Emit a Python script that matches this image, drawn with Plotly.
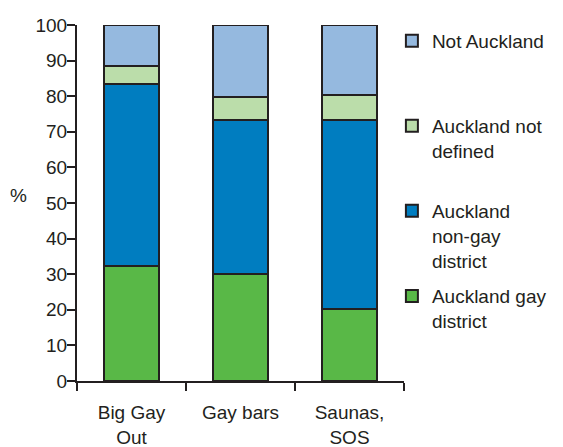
import plotly.graph_objects as go

categories = ["Big Gay<br>Out", "Gay bars", "Saunas,<br>SOS"]
gay_district = [32.3, 30.0, 20.1]
non_gay_district = [51.0, 43.2, 53.1]
not_defined = [5.1, 6.6, 7.2]
not_auckland = [11.6, 20.2, 19.6]

series = [
    ("Auckland gay<br>district", gay_district, "#59B847"),
    ("Auckland<br>non-gay<br>district", non_gay_district, "#007DC0"),
    ("Auckland not<br>defined<br>\u00a0", not_defined, "#BBDDAA"),
    ("Not Auckland<br>\u00a0<br>\u00a0", not_auckland, "#95B9DF"),
]

FONT = "Liberation Sans, Arial, sans-serif"
INK = "#231F20"
FS = 19

fig = go.Figure()
for i, (name, vals, color) in enumerate(series):
    fig.add_trace(go.Bar(
        x=categories, y=vals, name=name,
        marker=dict(color=color, line=dict(color=INK, width=2)),
        legendgroup=str(i), legendrank=len(series) - i,
    ))

# page body has an 8px margin, so the figure is shrunk by 8px and left/top margins reduced
fig.update_layout(
    barmode="stack",
    bargap=0.5,
    width=555, height=439,
    margin=dict(l=69, r=159, t=17, b=66, autoexpand=False),
    plot_bgcolor="white", paper_bgcolor="white",
    font=dict(family=FONT, size=FS, color=INK),
    showlegend=True,
    legend=dict(
        x=0.963, xanchor="left", y=1.009, yanchor="top",
        traceorder="grouped", tracegroupgap=8, valign="top",
        font=dict(size=FS, color=INK), bgcolor="rgba(0,0,0,0)",
        maxheight=1.0,
    ),
    xaxis=dict(
        showline=True, linecolor=INK, linewidth=2,
        ticks="outside", ticklen=8, tickwidth=2, tickcolor=INK,
        tickson="boundaries", range=[-0.5, 2.5],
        tickfont=dict(size=FS, color=INK),
        ticklabelstandoff=13, automargin=False,
    ),
    yaxis=dict(
        range=[0, 100], dtick=10, tick0=0,
        showline=True, linecolor=INK, linewidth=2,
        ticks="outside", ticklen=8, tickwidth=2, tickcolor=INK,
        showgrid=False, zeroline=False,
        tickfont=dict(size=FS, color=INK),
        ticklabelstandoff=-4, automargin=False,
    ),
    annotations=[dict(
        text="%", xref="paper", yref="paper", x=-0.18, y=0.522,
        xanchor="center", yanchor="middle", showarrow=False,
        font=dict(size=FS, color=INK),
    )],
)

fig.write_html("out.html")
